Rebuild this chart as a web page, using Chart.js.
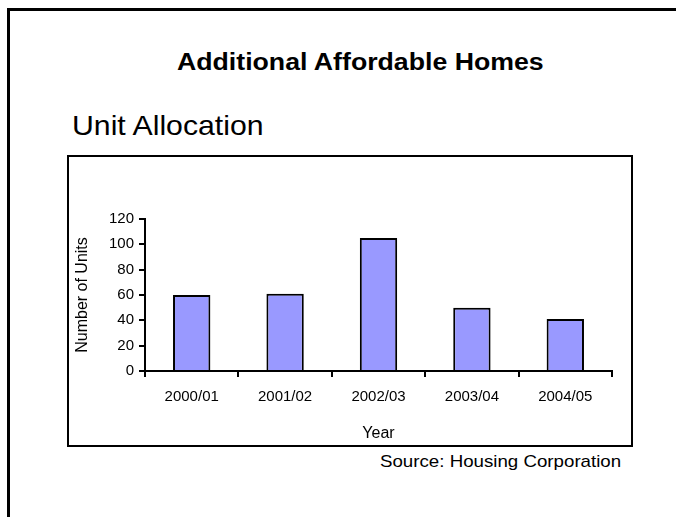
<!DOCTYPE html>
<html>
<head>
<meta charset="utf-8">
<script src="https://cdn.jsdelivr.net/npm/chart.js@4/dist/chart.umd.min.js"></script>
<style>
  html, body { margin: 0; padding: 0; background: #fff; width: 676px; height: 517px; overflow: hidden; }
  body { position: relative; font-family: "Liberation Sans", Arial, sans-serif; color: #000; }
  .frame { position: absolute; left: 7px; top: 8px; width: 720px; height: 560px;
           border-left: 3px solid #000; border-top: 3px solid #000; }
  .title { position: absolute; left: 177px; top: 49px; font-weight: bold; font-size: 23px;
           white-space: nowrap; transform: scaleX(1.16); transform-origin: 0 0; }
  .subtitle { position: absolute; left: 72px; top: 110px; font-size: 28px;
              white-space: nowrap; transform: scaleX(1.08); transform-origin: 0 0; }
  .box { position: absolute; left: 67px; top: 155px; width: 562px; height: 288px; border: 2px solid #000; }
  .source { position: absolute; left: 380px; top: 452px; font-size: 17px;
            white-space: nowrap; transform: scaleX(1.1); transform-origin: 0 0; }
  canvas { display: block; }
</style>
</head>
<body>
<div class="frame"></div>
<div class="title">Additional Affordable Homes</div>
<div class="subtitle">Unit Allocation</div>
<div class="box"><canvas id="chart" width="562" height="288"></canvas></div>
<div class="source">Source: Housing Corporation</div>
<script>
// Additional affordable homes allocated per financial year
const years = ["2000/01", "2001/02", "2002/03", "2003/04", "2004/05"];
const units = [60, 61, 105, 50, 41];
const unitTicks = [0, 20, 40, 60, 80, 100, 120];

const family = "'Liberation Sans', Arial, sans-serif";
const tickFont = { family: family, size: 15 };
const titleFont = { family: family, size: 16 };

new Chart(document.getElementById("chart"), {
  type: "bar",
  data: {
    labels: years,
    datasets: [{
      data: units,
      backgroundColor: "#9999FF",
      borderColor: "#000",
      borderWidth: 2,
      categoryPercentage: 1,
      barPercentage: 0.4
    }]
  },
  options: {
    responsive: false,
    animation: false,
    layout: { padding: { top: 62, right: 19, left: 0, bottom: 0 } },
    plugins: { legend: { display: false }, tooltip: { enabled: false } },
    scales: {
      x: {
        grid: { drawOnChartArea: false, tickLength: 6, color: "#000", lineWidth: 2 },
        border: { color: "#000", width: 2 },
        ticks: { color: "#000", font: tickFont, padding: 11, maxRotation: 0 },
        title: { display: true, text: "Year", color: "#000", font: titleFont, padding: { top: 2, bottom: 2 } },
        afterFit: s => { s.height = 74; }
      },
      y: {
        min: 0, max: 120,
        afterBuildTicks: s => { s.ticks = unitTicks.map(v => ({ value: v })); },
        grid: { drawOnChartArea: false, tickLength: 6, color: "#000", lineWidth: 2 },
        border: { color: "#000", width: 2 },
        ticks: { color: "#000", font: tickFont, padding: 5 },
        title: { display: true, text: "Number of Units", color: "#000", font: titleFont, padding: { top: 4, bottom: 4 } },
        afterFit: s => { s.width = 76; }
      }
    }
  }
});
</script>
</body>
</html>
